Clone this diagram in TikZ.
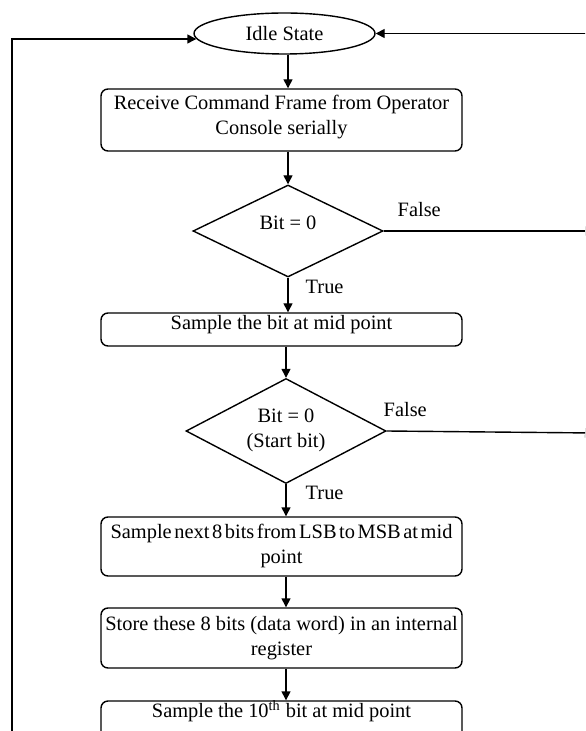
\documentclass[tikz,border=0pt]{standalone}
\usepackage{fontspec}
\setmainfont{Liberation Serif}
\usetikzlibrary{shapes.geometric,arrows.meta,calc}
\begin{document}
\begin{tikzpicture}[x=0.5pt,y=-0.5pt,
  line width=0.7pt,
  every node/.style={font=\fontsize{10.2}{12.5}\selectfont},
  procbox/.style={draw, rounded corners=3.5pt, minimum width=180.5pt, inner sep=0pt},
  decision/.style={draw, diamond, inner sep=0pt},
  arr/.style={-{Triangle[length=4.5pt,width=4.5pt]}},
  txt/.style={align=center, inner sep=0pt},
  cond/.style={anchor=west, inner sep=0pt},
]
\useasboundingbox (0,0) rectangle (585,731);
\clip (0,0) rectangle (585,731);

% states and steps of the receiver
\node[draw, ellipse, minimum width=90.5pt, minimum height=20.5pt, inner sep=0pt]
  (idle) at (284.5,33.5) {Idle State};
\node[procbox, minimum height=31pt,
  label={[txt, yshift=1.25pt]center:Receive Command Frame from Operator\\Console serially}]
  (box1) at (281.5,120) {};
\node[decision, minimum width=95pt, minimum height=46pt,
  label={[txt, yshift=4pt]center:Bit = 0}]
  (d1) at (288,231) {};
\node[procbox, minimum height=16.5pt,
  label={[txt, yshift=2.5pt]center:Sample the bit at mid point}]
  (box2) at (281.5,329.5) {};
\node[decision, minimum width=100pt, minimum height=52.5pt,
  label={[txt, yshift=0.5pt]center:Bit = 0\\(Start bit)}]
  (d2) at (286,431) {};
\node[procbox, minimum height=29.5pt,
  label={[txt, yshift=0.25pt]center:{\spaceskip=1.3pt Sample next 8 bits from LSB to MSB at mid}\\point}]
  (box3) at (281.5,546.5) {};
\node[procbox, minimum height=30pt,
  label={[txt, yshift=0pt]center:Store these 8 bits (data word) in an internal\\register}]
  (box4) at (281.5,638) {};
\node[procbox, minimum height=30pt,
  label={[txt, yshift=10pt]center:Sample the 10\textsuperscript{th} bit at mid point}]
  (box5) at (281.5,731) {};

% branch labels
\node[cond] (f1) at (397,210) {False};
\node[cond] (t1) at (305,287) {True};
\node[cond] (f2) at (383,410) {False};
\node[cond] (t2) at (305,493) {True};

% free ends of the return loops
\coordinate (lb) at (12,770);
\coordinate (rt) at (610,33.5);
\coordinate (r1) at (594,231);
\coordinate (r2) at (594,433);

% main flow
\draw[arr] (idle.south -| d1.north) -- (box1.north -| d1.north);
\draw[arr] (box1.south -| d1.north) -- (d1.north);
\draw[arr] (d1.south) -- (d1.south |- box2.north);
\draw[arr] (box2.south -| d2.north) -- (d2.north);
\draw[arr] (d2.south) -- (d2.south |- box3.north);
\draw[arr] (box3.south -| d2.north) -- (box4.north -| d2.north);
\draw[arr] (box4.south -| d2.north) -- (box5.north -| d2.north);

% return paths
\draw[arr] (lb) |- ($(idle.west)+(3,5.5)$);
\draw[arr] (rt) -- (idle.east);
\draw[arr] (d1.east) -- (r1);
\draw[arr] (d2.east) -- (r2);
\end{tikzpicture}
\end{document}
